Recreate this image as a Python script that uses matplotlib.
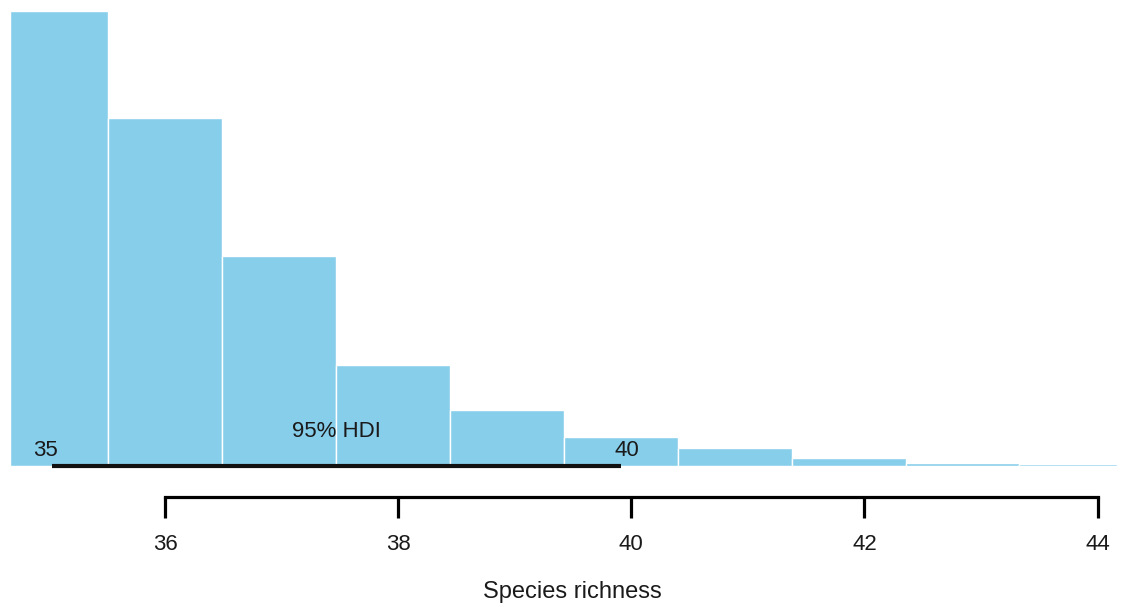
import matplotlib
matplotlib.use("Agg")
import matplotlib.pyplot as plt
import numpy as np

# posterior histogram of species richness (density)
bin_edges = [34.67, 35.51, 36.49, 37.47, 38.44, 39.42, 40.40, 41.38, 42.36, 43.33, 44.17]
density = [0.3786, 0.2896, 0.1748, 0.0840, 0.0466, 0.0241, 0.0150, 0.0067, 0.0025, 0.0017]
hdi = [35.03, 39.91]
hdi_labels = ['35', '40']
x_ticks = [36, 38, 40, 42, 44]

plt.rcParams['font.family'] = ['Liberation Sans', 'DejaVu Sans']
txt_col = '#1a1a1a'

fig = plt.figure(figsize=(11.21, 6.07), dpi=100)
# axes bottom = x axis line (px 497), top = tallest bar (px 11)
ax = fig.add_axes([0, 1 - 497 / 607, 1, (497 - 11) / 607])

edges = np.array(bin_edges)
ax.bar(edges[:-1], density, width=np.diff(edges), align='edge',
       color='#87CEEB', edgecolor='white', linewidth=1.0)

ymax = max(density)
ax.set_xlim(34.583, 44.201)
ax.set_ylim(-ymax * 31 / 455, ymax)

# HDI bar and labels
ax.plot(hdi, [0, 0], color='#111111', linewidth=3, solid_capstyle='butt')
ax.annotate(hdi_labels[0], xy=(hdi[0], 0), xytext=(-5, 11), textcoords='offset points',
            ha='center', va='center', fontsize=16, color=txt_col)
ax.annotate(hdi_labels[1], xy=(hdi[1], 0), xytext=(4, 11), textcoords='offset points',
            ha='center', va='center', fontsize=16, color=txt_col)
ax.annotate('95% HDI', xy=(np.mean(hdi), 0), xytext=(0, 25), textcoords='offset points',
            ha='center', va='center', fontsize=16, color=txt_col)

# R style axis
for s in ['top', 'right', 'left']:
    ax.spines[s].set_visible(False)
ax.spines['bottom'].set_bounds(x_ticks[0], x_ticks[-1])
ax.spines['bottom'].set_linewidth(2.3)
ax.set_yticks([])
ax.set_xticks(x_ticks)
ax.set_xticklabels([str(t) for t in x_ticks])
ax.tick_params(axis='x', direction='out', length=15, width=2.3, pad=12,
               labelsize=16, labelcolor=txt_col)
ax.patch.set_alpha(0)

fig.text(572.5 / 1121, 1 - 592 / 607, 'Species richness', ha='center', va='center',
         fontsize=17, color=txt_col)

fig.savefig('out.png', dpi=100)
